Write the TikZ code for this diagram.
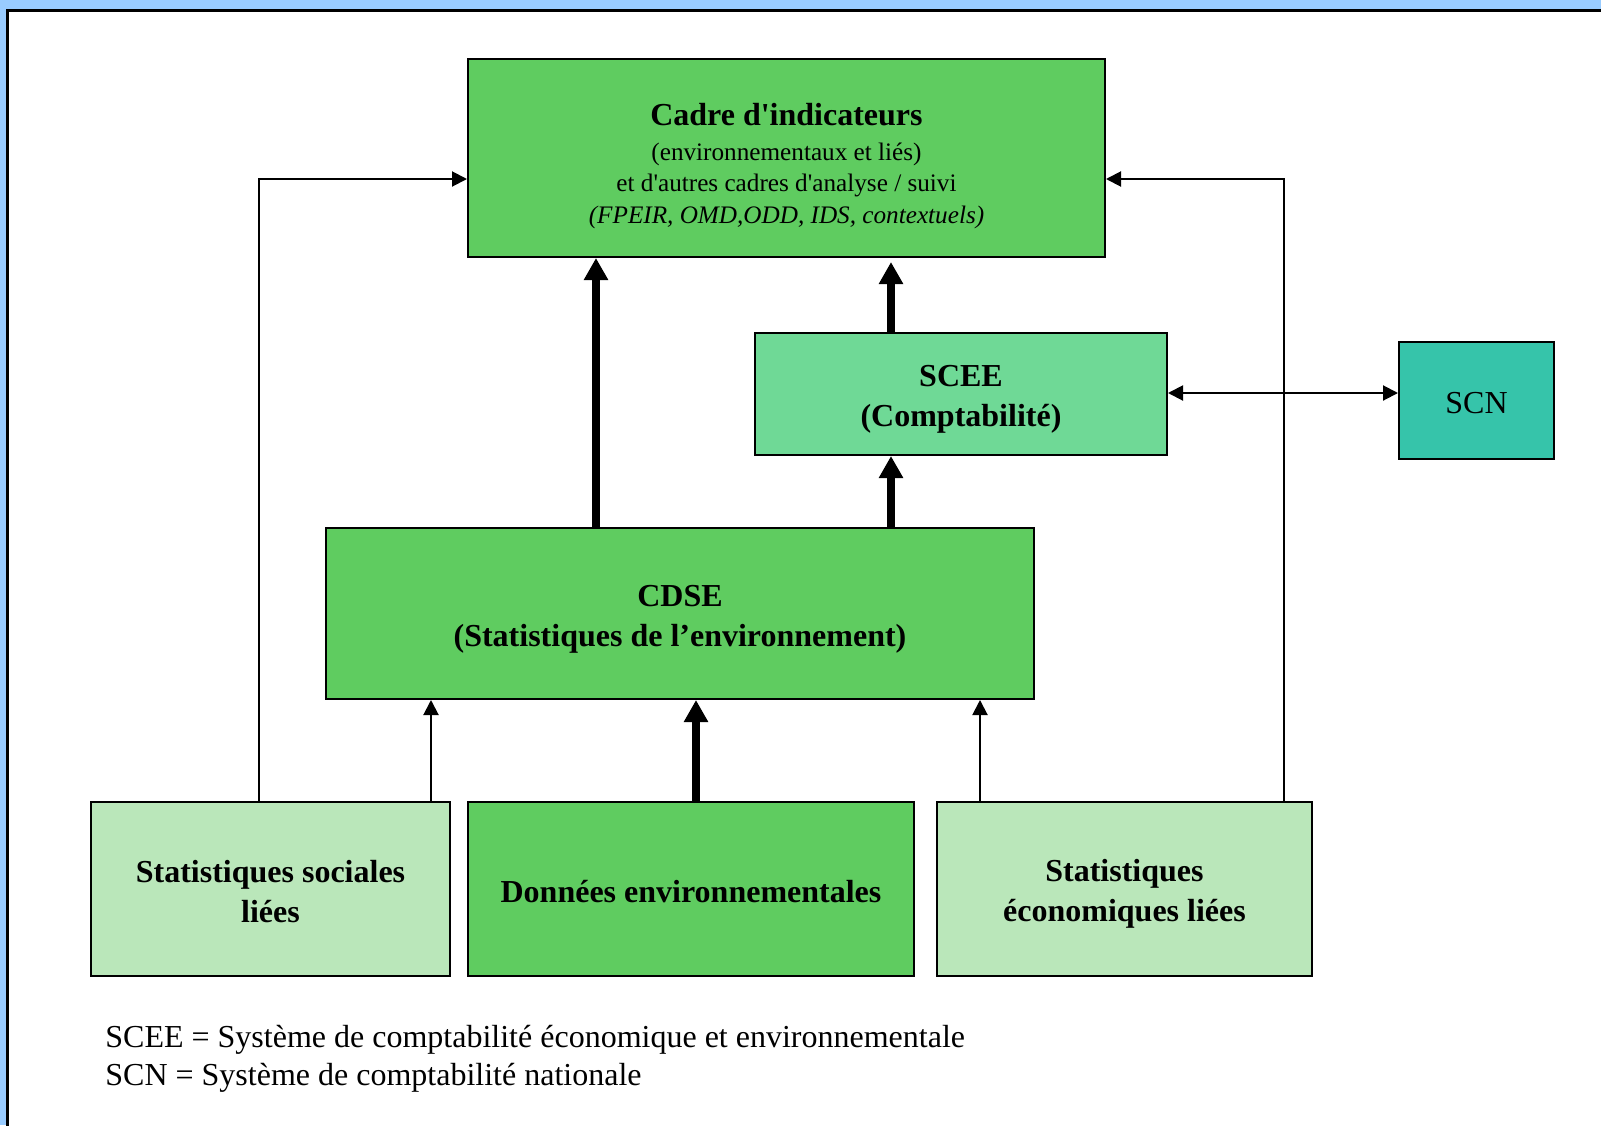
\documentclass[tikz,border=0pt]{standalone}
\usepackage{fontspec}
\setmainfont{Liberation Serif}
\usepackage{xcolor}
\usepackage{tikz}
\usetikzlibrary{arrows.meta,positioning}
\definecolor{fond}{HTML}{99CCFF}
\definecolor{vert}{HTML}{5FCC60}
\definecolor{vertclair}{HTML}{BAE7BA}
\definecolor{vertscee}{HTML}{6FD996}
\definecolor{turq}{HTML}{36C4AA}
\newcommand{\apo}{\textquotesingle}
\begin{document}
\begin{tikzpicture}[x=0.5pt,y=-0.5pt,
boite/.style={draw,line width=1pt,inner sep=0pt,align=center,font=\fontsize{16}{20}\selectfont\bfseries},
fin/.style={line width=1pt,-{Triangle[length=7.5pt,width=7.5pt]}},
gros/.style={line width=3.8pt,-{Triangle[length=11pt,width=11.5pt]}}]
\clip(0,0)rectangle(1601,1125);
\fill[fond](0,0)rectangle(1601,1125);
\filldraw[fill=white,line width=1.5pt](7,10)rectangle(1620,1140);
\node[boite,fill=vert,minimum width=318.5pt,minimum height=99pt](cadre)at(786.5,158)
{\rule{0pt}{19pt}Cadre d\apo indicateurs\\[-2.6pt]
{\mdseries\fontsize{12.6}{15.8}\selectfont(environnementaux et liés)}\\[-4.2pt]
{\mdseries\fontsize{12.6}{15.8}\selectfont et d\apo autres cadres d\apo analyse / suivi}\\[-4.2pt]
{\mdseries\itshape\fontsize{12.6}{15.8}\selectfont (FPEIR, OMD,ODD, IDS, contextuels)}};
\node[boite,fill=vertscee,minimum width=206pt,minimum height=61pt](scee)at(961,394){\rule{0pt}{16pt}SCEE\\(Comptabilité)};
\node[boite,fill=turq,minimum width=77.5pt,minimum height=58.5pt,font=\fontsize{16}{20}\selectfont](scn)at(1476.5,400.5){\rule{0pt}{13pt}SCN};
\node[boite,fill=vert,minimum width=354pt,minimum height=85.5pt](cdse)at(680,613.5){\rule{0pt}{16pt}CDSE\\(Statistiques de l’environnement)};
\node[boite,fill=vertclair,minimum width=179.5pt,minimum height=87pt](soc)at(270.5,889){\rule{0pt}{14pt}Statistiques sociales\\liées};
\node[boite,fill=vert,minimum width=223pt,minimum height=87pt](donnees)at(691,889){\rule{0pt}{14pt}Données environnementales};
\node[boite,fill=vertclair,minimum width=187.5pt,minimum height=87pt](eco)at(1124.5,889){\rule{0pt}{15.5pt}Statistiques\\économiques liées};
\node[anchor=base west,align=left,inner sep=0pt,font=\fontsize{16}{18.9}\selectfont](legende)at(105,1085)
{SCEE = Système de comptabilité économique et environnementale\\
SCN = Système de comptabilité nationale};
\coordinate(L)at(259,179);
\coordinate(R)at(1284,179);
\coordinate(a)at(596,0);
\coordinate(b)at(891,0);
\coordinate(c)at(431,0);
\coordinate(d)at(980,0);
\coordinate(e)at(696,0);
\draw[fin](soc.north -| L)|-(cadre.west |- L);
\draw[fin](eco.north -| R)|-(cadre.east |- R);
\draw[gros](cdse.north -| a)--(cadre.south -| a);
\draw[gros](scee.north -| b)--([yshift=-2pt]cadre.south -| b);
\draw[gros](cdse.north -| b)--(scee.south -| b);
\draw[fin](soc.north -| c)--(cdse.south -| c);
\draw[gros](donnees.north -| e)--(cdse.south -| e);
\draw[fin](eco.north -| d)--(cdse.south -| d);
\draw[line width=1pt,{Triangle[length=7.5pt,width=7.5pt]}-{Triangle[length=7.5pt,width=7.5pt]}](scee.east |- 0,393)--(scn.west |- 0,393);
\end{tikzpicture}
\end{document}
